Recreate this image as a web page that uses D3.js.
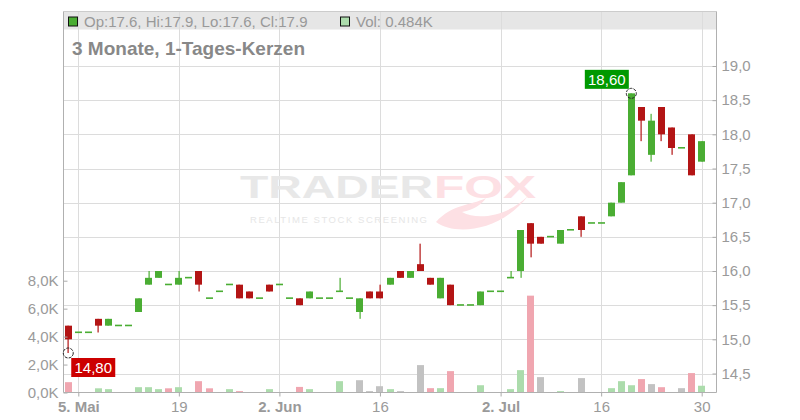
<!DOCTYPE html>
<html>
<head>
<meta charset="utf-8">
<script src="https://cdn.jsdelivr.net/npm/d3@7/dist/d3.min.js"></script>
<style>
  html, body { margin: 0; padding: 0; background: #fff; }
  svg { display: block; font-family: "Liberation Sans", Arial, sans-serif; }
</style>
</head>
<body>
<svg id="chart" width="800" height="420"></svg>
<script>
// ---------- DATA ----------
const dates = [
  "2025-05-02",
  "2025-05-05","2025-05-06","2025-05-07","2025-05-08","2025-05-09",
  "2025-05-12","2025-05-13","2025-05-14","2025-05-15","2025-05-16",
  "2025-05-19","2025-05-20","2025-05-21","2025-05-22","2025-05-23",
  "2025-05-26","2025-05-27","2025-05-28","2025-05-29","2025-05-30",
  "2025-06-02","2025-06-03","2025-06-04","2025-06-05","2025-06-06",
  "2025-06-09","2025-06-10","2025-06-11","2025-06-12","2025-06-13",
  "2025-06-16","2025-06-17","2025-06-18","2025-06-19","2025-06-20",
  "2025-06-23","2025-06-24","2025-06-25","2025-06-26","2025-06-27",
  "2025-06-30","2025-07-01","2025-07-02","2025-07-03","2025-07-04",
  "2025-07-07","2025-07-08","2025-07-09","2025-07-10","2025-07-11",
  "2025-07-14","2025-07-15","2025-07-16","2025-07-17","2025-07-18",
  "2025-07-21","2025-07-22","2025-07-23","2025-07-24","2025-07-25",
  "2025-07-28","2025-07-29","2025-07-30"
];
const opens = [15.2,
  15.1,15.1,15.3,15.2,15.2, 15.2,15.4,15.8,15.9,15.8,
  15.8,15.9,16.0,15.6,15.7, 15.8,15.8,15.7,15.6,15.8,
  15.8,15.6,15.6,15.6,15.6, 15.6,15.7,15.6,15.4,15.7,
  15.7,15.8,16.0,15.9,16.1, 15.9,15.6,15.8,15.5,15.5,
  15.5,15.7,15.7,15.9,16.0, 16.7,16.5,16.5,16.4,16.6,
  16.8,16.7,16.7,16.8,17.0, 17.4,18.4,17.7,18.4,18.1,
  17.8,18.0,17.6];
const highs = [15.2,
  15.1,15.1,15.3,15.3,15.2, 15.2,15.6,16.0,16.0,15.8,
  16.0,15.9,16.0,15.6,15.7, 15.8,15.8,15.7,15.6,15.8,
  15.8,15.6,15.6,15.7,15.6, 15.6,15.9,15.6,15.6,15.7,
  15.8,15.9,16.0,16.0,16.4, 15.9,15.9,15.8,15.5,15.5,
  15.7,15.7,15.7,16.0,16.6, 16.7,16.5,16.5,16.6,16.6,
  16.8,16.7,16.7,17.0,17.3, 18.6,18.4,18.3,18.4,18.1,
  17.8,18.0,17.9];
const lows = [14.8,
  15.1,15.1,15.1,15.2,15.2, 15.2,15.4,15.8,15.9,15.8,
  15.8,15.9,15.7,15.6,15.7, 15.8,15.6,15.6,15.6,15.7,
  15.8,15.6,15.5,15.6,15.6, 15.6,15.7,15.6,15.3,15.6,
  15.6,15.8,15.9,15.9,16.0, 15.8,15.6,15.5,15.5,15.5,
  15.5,15.7,15.7,15.9,15.9, 16.2,16.4,16.5,16.4,16.6,
  16.5,16.7,16.7,16.8,17.0, 17.4,17.9,17.6,17.9,17.7,
  17.8,17.4,17.6];
const closes = [15.0,
  15.1,15.1,15.2,15.3,15.2, 15.2,15.6,15.9,16.0,15.8,
  15.9,15.9,15.8,15.6,15.7, 15.8,15.6,15.6,15.6,15.7,
  15.8,15.6,15.5,15.7,15.6, 15.6,15.7,15.6,15.6,15.6,
  15.6,15.9,15.9,16.0,16.0, 15.8,15.9,15.5,15.5,15.5,
  15.7,15.7,15.7,15.9,16.6, 16.4,16.4,16.5,16.6,16.6,
  16.6,16.7,16.7,17.0,17.3, 18.6,18.2,18.2,18.0,17.8,
  17.8,17.4,17.9];
// volume in thousands
const volumes = [0.74,
  0,0,0.30,0.24,0, 0,0.38,0.38,0.24,0.30,
  0.38,0,0.81,0.30,0, 0.24,0.10,0,0,0.24,
  0,0,0.40,0.24,0, 0,0.81,0,0.88,0.10,
  0.45,0.24,0.10,0,1.96, 0.31,0.31,1.53,0,0,
  0.52,0,0,0.24,1.60, 6.93,1.10,0,0.10,0,
  1.03,0,0,0.31,0.81, 0.52,0.96,0.60,0.38,0,
  0.31,1.39,0.484];

const priceTicks = [14.5,15.0,15.5,16.0,16.5,17.0,17.5,18.0,18.5,19.0];
const volTicks = [0,2,4,6,8];
const dateTickDates = ["2025-05-05","2025-05-19","2025-06-02","2025-06-16","2025-07-02","2025-07-16","2025-07-30"];
const dateTickLabels = ["5. Mai","19","2. Jun","16","2. Jul","16","30"];
const dateTickBold = [true,false,true,false,true,false,false];

const titleText = "3 Monate, 1-Tages-Kerzen";
const legendText = "Op:17.6, Hi:17.9, Lo:17.6, Cl:17.9";
const volLegendText = "Vol: 0.484K";
const lowLabel = "14,80";
const highLabel = "18,60";

// ---------- STYLE ----------
const C = {
  up: "#4aad33", down: "#b31515",
  vUp: "#acdcac", vDown: "#f0a6b0", vFlat: "#c2c2c2",
  grid: "#dcdcdc", axis: "#b0b0b0", text: "#9a9a9a", title: "#888"
};
const L = 63.5, R = 716.5, T = 11.5, B = 392.5;

const svg = d3.select("#chart");
const locale = d3.formatLocale({decimal: ",", thousands: ".", grouping: [3], currency: ["", "€"]});
const fmt1 = locale.format(".1f");
const fmt2 = locale.format(".2f");

const x = d3.scalePoint().domain(dates).range([68.25, 701.7]);
const y = d3.scaleLinear().domain([14.5, 19]).range([373.5, 66]);
const yv = d3.scaleLinear().domain([0, 8]).range([B, 280.7]);
const bw = 7;

// header band
svg.append("rect").attr("x", L).attr("y", T).attr("width", R - L).attr("height", 18)
  .attr("fill", "#e6e6e6");

// ---------- GRID ----------
const grid = svg.append("g");
grid.selectAll("line.h").data(priceTicks).join("line")
  .attr("x1", L).attr("x2", R)
  .attr("y1", d => Math.round(y(d)) + 0.5).attr("y2", d => Math.round(y(d)) + 0.5)
  .attr("stroke", C.grid);
grid.selectAll("line.v").data(dateTickDates).join("line")
  .attr("y1", T).attr("y2", B)
  .attr("x1", d => Math.round(x(d)) + 0.5).attr("x2", d => Math.round(x(d)) + 0.5)
  .attr("stroke", C.grid);

// top border
svg.append("line").attr("x1", L).attr("x2", R).attr("y1", T).attr("y2", T).attr("stroke", "#cccccc");

// ---------- WATERMARK ----------
const wm = svg.append("g");
wm.append("text").attr("x", 240).attr("y", 198).attr("font-size", 32).attr("font-weight", "bold")
  .attr("fill", "#e8e8e8").attr("textLength", 193).attr("lengthAdjust", "spacingAndGlyphs").text("TRADER");
wm.append("text").attr("x", 434).attr("y", 198).attr("font-size", 32).attr("font-weight", "bold")
  .attr("fill", "#fde0e4").attr("textLength", 102).attr("lengthAdjust", "spacingAndGlyphs").text("FOX");
wm.append("path")
  .attr("d", "M436,222 C455,236 500,232 528,196 C510,214 480,222 462,212 C474,210 482,204 486,198 C470,206 452,204 436,222 Z")
  .attr("fill", "#fde0e4");
wm.append("text").attr("x", 250).attr("y", 223).attr("font-size", 9.5)
  .attr("fill", "#e6e6e6").attr("textLength", 177).attr("lengthAdjust", "spacing").text("REALTIME STOCK SCREENING");

// ---------- VOLUME ----------
const data = dates.map((d, i) => ({
  d, o: opens[i], h: highs[i], l: lows[i], c: closes[i], v: volumes[i],
  pc: i > 0 ? closes[i - 1] : null
}));
svg.append("g").selectAll("rect").data(data.filter(e => e.v > 0)).join("rect")
  .attr("x", e => Math.round(x(e.d) - bw / 2))
  .attr("width", bw)
  .attr("y", e => yv(e.v))
  .attr("height", e => B - 0.5 - yv(e.v))
  .attr("fill", e => e.pc === null ? C.vDown : (e.c > e.pc ? C.vUp : (e.c < e.pc ? C.vDown : C.vFlat)));

// ---------- CANDLES ----------
const cg = svg.append("g");
const col = e => e.c < e.o ? C.down : C.up;
cg.selectAll("rect.wick").data(data.filter(e => e.h > e.l)).join("rect")
  .attr("x", e => Math.round(x(e.d)) - 0.5).attr("width", 1.2)
  .attr("y", e => y(e.h)).attr("height", e => y(e.l) - y(e.h))
  .attr("fill", col);
cg.selectAll("rect.body").data(data).join("rect")
  .attr("x", e => Math.round(x(e.d) - bw / 2))
  .attr("width", bw)
  .attr("y", e => e.o === e.c ? y(e.o) - 1 : y(Math.max(e.o, e.c)))
  .attr("height", e => e.o === e.c ? 1.6 : Math.abs(y(e.o) - y(e.c)))
  .attr("fill", col);

// ---------- AXES ----------
const axR = svg.append("g").attr("transform", `translate(${R},0)`)
  .call(d3.axisRight(y).tickValues(priceTicks).tickFormat(fmt1).tickSize(-4).tickPadding(5));
const axL = svg.append("g").attr("transform", `translate(${L},0)`)
  .call(d3.axisLeft(yv).tickValues(volTicks).tickFormat(d => fmt1(d) + "K").tickSize(-4).tickPadding(5));
const axB = svg.append("g").attr("transform", `translate(0,${B})`)
  .call(d3.axisBottom(x).tickValues(dateTickDates)
    .tickFormat((d, i) => dateTickLabels[i]).tickSize(4).tickPadding(4));
[axR, axL, axB].forEach(a => {
  a.select(".domain").attr("stroke", C.axis);
  a.selectAll(".tick line").attr("stroke", "#aaa");
  a.selectAll("text").attr("fill", C.text).attr("font-size", 15)
    .attr("font-family", '"Liberation Sans", Arial, sans-serif');
});
axB.selectAll(".tick text").attr("font-weight", (d, i) => dateTickBold[i] ? "bold" : "normal")
  .attr("dy", null).attr("y", 19);
axR.select(".domain").attr("d", `M0,${T}V${B}`);
axL.select(".domain").attr("d", `M0,${T}V${B}`);
axB.select(".domain").attr("d", `M${L},0H${R}`);

// ---------- HEADER ----------
svg.append("rect").attr("x", 68.5).attr("y", 17).attr("width", 9).attr("height", 9)
  .attr("fill", C.up).attr("stroke", "#111").attr("stroke-width", 1);
svg.append("text").attr("x", 84).attr("y", 26.5).attr("font-size", 15).attr("fill", "#999").text(legendText);
svg.append("rect").attr("x", 340.5).attr("y", 17).attr("width", 9).attr("height", 9)
  .attr("fill", C.vUp).attr("stroke", "#111").attr("stroke-width", 1);
svg.append("text").attr("x", 356).attr("y", 26.5).attr("font-size", 15).attr("fill", "#999").text(volLegendText);
svg.append("text").attr("x", 72).attr("y", 55).attr("font-size", 19).attr("font-weight", "bold")
  .attr("fill", C.title).text(titleText);

// ---------- HIGH / LOW MARKERS ----------
const iLow = d3.minIndex(lows), iHigh = d3.maxIndex(highs);
function marker(i, val, labelText, fill, bx, by) {
  const cx = x(dates[i]), cy = y(val);
  svg.append("circle").attr("cx", cx).attr("cy", cy).attr("r", 5)
    .attr("fill", "none").attr("stroke", "#222").attr("stroke-width", 1).attr("stroke-dasharray", "3,1.2");
  svg.append("rect").attr("x", bx).attr("y", by).attr("width", 44).attr("height", 19).attr("fill", fill);
  svg.append("text").attr("x", bx + 22).attr("y", by + 15).attr("text-anchor", "middle")
    .attr("font-size", 15).attr("fill", "#fff").text(labelText);
}
marker(iLow, lows[iLow], lowLabel, "#cc0000", x(dates[iLow]) + 3, y(lows[iLow]) + 5);
marker(iHigh, highs[iHigh], highLabel, "#009900", x(dates[iHigh]) - 46.5, y(highs[iHigh]) - 23.5);
</script>
</body>
</html>
